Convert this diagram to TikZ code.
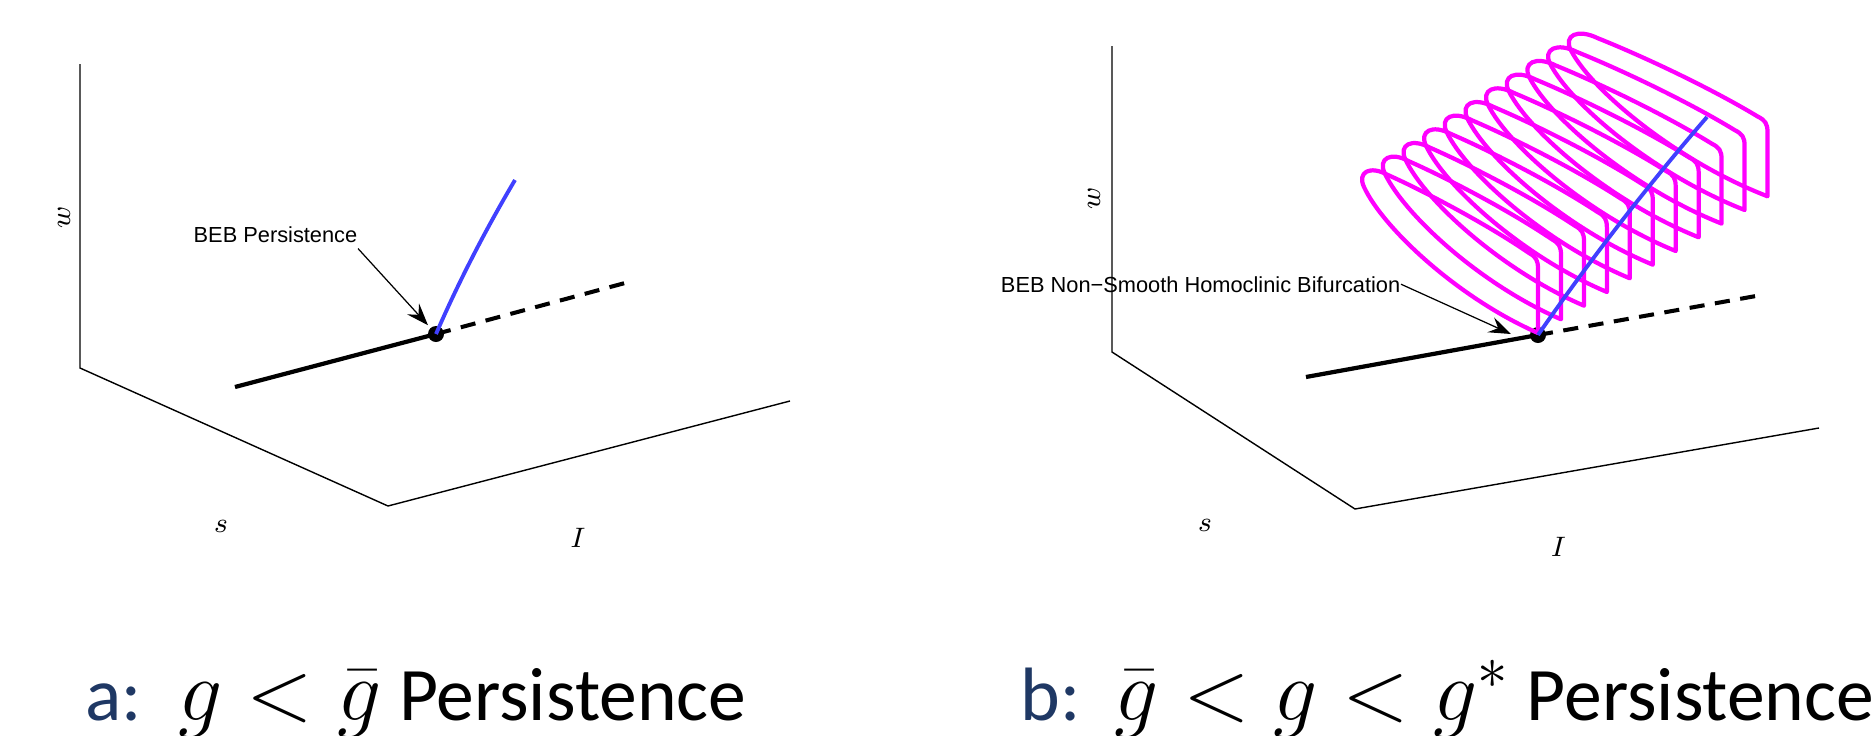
\documentclass[tikz,border=0pt]{standalone}
\usepackage{amsmath,amssymb}
\usepackage{fontspec}
\usepackage{tikz}
\usetikzlibrary{arrows.meta,positioning}
\usepackage{xcolor}

\newfontfamily\annfont{Liberation Sans}
\newfontfamily\capfont{Carlito}
\definecolor{capblue}{RGB}{31,56,100}
\definecolor{cycleblue}{RGB}{64,64,255}
\definecolor{loopmagenta}{RGB}{255,0,255}

\begin{document}
\begin{tikzpicture}[x=0.01cm, y=-0.01cm,
  axisline/.style={line width=0.4pt, line join=miter},
  axlabel/.style={inner sep=0pt, font=\fontsize{8}{9.6}\selectfont},
  stable/.style={line width=1.2pt},
  unstable/.style={line width=1.15pt, dash pattern=on 4.3pt off 3pt},
  limitcycle/.style={cycleblue, line width=1.1pt},
  orbit/.style={loopmagenta, line width=1.2pt, line join=round},
  beb/.style={circle, fill=black, minimum size=0.16cm, inner sep=0pt, outer sep=0pt},
  ann/.style={font=\annfont\fontsize{6.2}{7.4}\selectfont, inner xsep=0pt, inner ysep=1.6pt, anchor=base east},
  pointer/.style={line width=0.35pt, -{Stealth[length=6.3pt, width=4.6pt, inset=2.3pt]}},
  captext/.style={font=\capfont\fontsize{21.5}{26}\selectfont, inner sep=0pt, anchor=base west},
  homloop/.pic={\draw[orbit] (0,0) -- (0,-64) .. controls (0,-73) and (-2,-76) .. (-9,-80)
    .. controls (-50,-108) and (-110,-140) .. (-150,-158)
    .. controls (-168,-168) and (-181,-161) .. (-174,-146)
    .. controls (-155,-105) and (-80,-35) .. cycle;}
]
\useasboundingbox (0,0) rectangle (1871,736);

% a: g < gbar
\coordinate (wtopA) at (80,64);
\coordinate (originA) at (80,368);
\coordinate (cornerA) at (388,506);
\coordinate (iendA) at (790,401);
\draw[axisline] (wtopA) -- (originA) -- (cornerA) -- (iendA);
\node[axlabel, rotate=90] (wA) at (64,217.5) {$w$};
\node[axlabel] (sA) at (221,526) {$s$};
\node[axlabel] (IA) at (578,538) {$I$};

\coordinate (eqstartA) at (235,387);
\coordinate (eqendA) at (625,283);
\coordinate (lcA) at (515,180);
\node[beb] (bebA) at (436,334) {};
\draw[stable] (eqstartA) -- (bebA.center);
\draw[unstable] (bebA.center) -- (eqendA);
\draw[limitcycle] (bebA.center) .. controls (459,281) and (486,229) .. (lcA);

\node[ann] (annA) at (358,242) {BEB Persistence};
\draw[pointer, shorten >=1.1pt] (annA.south east) -- (bebA);

% b: gbar < g < g*
\coordinate (wtopB) at (1112,46);
\coordinate (originB) at (1112,352);
\coordinate (cornerB) at (1355,509);
\coordinate (iendB) at (1819,428);
\draw[axisline] (wtopB) -- (originB) -- (cornerB) -- (iendB);
\node[axlabel, rotate=90] (wB) at (1094,198.5) {$w$};
\node[axlabel] (sB) at (1205,525) {$s$};
\node[axlabel] (IB) at (1558.5,547) {$I$};

\coordinate (eqstartB) at (1306,377);
\coordinate (eqendB) at (1756,296);
\coordinate (lcB) at (1707,117);
\node[beb] (bebB) at (1538,335) {};
\draw[stable] (eqstartB) -- (bebB.center);
\draw[unstable] (bebB.center) -- (eqendB);

% homoclinic loops
\pic at (1538,333) {homloop};
\pic[xscale=1.013] at (1561,319.3) {homloop};
\pic[xscale=1.026] at (1584,305.7) {homloop};
\pic[xscale=1.039] at (1606.9,292) {homloop};
\pic[xscale=1.052] at (1629.8,278.3) {homloop};
\pic[xscale=1.065] at (1652.8,264.7) {homloop};
\pic[xscale=1.078] at (1675.7,251) {homloop};
\pic[xscale=1.091] at (1698.7,237.3) {homloop};
\pic[xscale=1.104] at (1721.6,223.6) {homloop};
\pic[xscale=1.117] at (1744.6,210) {homloop};
\pic[xscale=1.13] at (1767.5,196.3) {homloop};

\draw[limitcycle] (bebB.center) .. controls (1590,260) and (1648,185) .. (lcB);

\node[ann] (annB) at (1401,292) {BEB Non−Smooth Homoclinic Bifurcation};
\coordinate (tipB) at (1511,334);
\draw[pointer] (annB.east) -- (tipB);

% captions
\node[captext] (capA) at (85,720) {\textcolor{capblue}{a:}\hspace{0.48em}{\fontsize{24}{28}\selectfont$g<\bar{g}$} Persistence};
\node[captext] (capB) at (1020,720) {\textcolor{capblue}{b:}\hspace{0.45em}{\fontsize{24}{28}\selectfont$\bar{g}<g<g^{*}$} Persistence};

\end{tikzpicture}
\end{document}
